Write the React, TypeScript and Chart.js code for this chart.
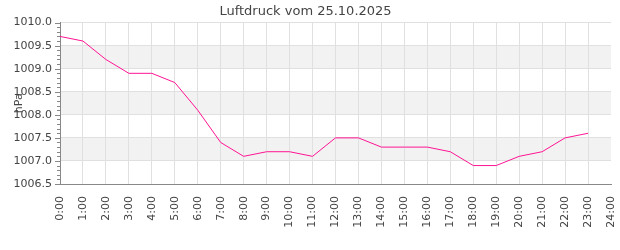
import React, { useEffect, useRef } from "react";
import { Chart, registerables } from "chart.js";

Chart.register(...registerables);

const hours = [0, 1, 2, 3, 4, 5, 6, 7, 8, 9, 10, 11, 12, 13, 14, 15, 16, 17, 18, 19, 20, 21, 22, 23];
const pressure = [
  1009.7, 1009.6, 1009.2, 1008.9, 1008.9, 1008.7, 1008.1, 1007.4, 1007.1, 1007.2, 1007.2, 1007.1,
  1007.5, 1007.5, 1007.3, 1007.3, 1007.3, 1007.2, 1006.9, 1006.9, 1007.1, 1007.2, 1007.5, 1007.6,
];
const bands: [number, number][] = [
  [1009.0, 1009.5],
  [1008.0, 1008.5],
  [1007.0, 1007.5],
];
const yMin = 1006.5;
const yMax = 1010.0;
const titleText = "Luftdruck vom 25.10.2025";
const yTitle = "hPa";

const FONT = "'DejaVu Sans', sans-serif";

const decorPlugin = {
  id: "decor",
  beforeDraw(chart: any) {
    const { ctx, chartArea, scales } = chart;
    const y = scales.y;
    ctx.save();
    ctx.fillStyle = "#f2f2f2";
    for (const [a, b] of bands) {
      const y1 = y.getPixelForValue(b);
      const y2 = y.getPixelForValue(a);
      ctx.fillRect(chartArea.left, y1, chartArea.right - chartArea.left, y2 - y1);
    }
    ctx.restore();
  },
  afterDraw(chart: any) {
    const { ctx, chartArea, scales } = chart;
    const y = scales.y;
    ctx.save();
    ctx.strokeStyle = "#888";
    ctx.lineWidth = 1;
    const n = Math.round((yMax - yMin) * 10);
    for (let i = 0; i <= n; i++) {
      const v = yMin + i / 10;
      const py = Math.round(y.getPixelForValue(v)) + 0.5;
      const len = i % 5 === 0 ? 5 : 3;
      ctx.beginPath();
      ctx.moveTo(chartArea.left - len, py);
      ctx.lineTo(chartArea.left, py);
      ctx.stroke();
    }
    ctx.fillStyle = "#444";
    ctx.font = `11px ${FONT}`;
    ctx.textAlign = "center";
    ctx.textBaseline = "middle";
    ctx.translate(chartArea.left - 41, (chartArea.top + chartArea.bottom) / 2);
    ctx.rotate(-Math.PI / 2);
    ctx.fillText(yTitle, 0, 0);
    ctx.restore();
  },
};

export default function App() {
  const ref = useRef<HTMLCanvasElement>(null);
  useEffect(() => {
    if (!ref.current) return;
    const chart = new Chart(ref.current, {
      type: "line",
      data: {
        datasets: [
          {
            data: hours.map((h, i) => ({ x: h, y: pressure[i] })),
            borderColor: "#ff1493",
            borderWidth: 1,
            pointRadius: 0,
            tension: 0,
            fill: false,
          },
        ],
      },
      plugins: [decorPlugin],
      options: {
        animation: false,
        responsive: false,
        maintainAspectRatio: false,
        layout: { padding: { left: 0, right: 9, top: 0, bottom: 0 } },
        plugins: {
          legend: { display: false },
          tooltip: { enabled: false },
          title: {
            display: true,
            text: titleText,
            color: "#444",
            font: { family: FONT, size: 13, weight: "normal" },
            padding: { top: 4, bottom: 3 },
          },
        },
        scales: {
          x: {
            type: "linear",
            min: 0,
            max: 24,
            afterFit: (s: any) => {
              s.height = 66;
              s.paddingLeft = 0;
              s.paddingRight = 0;
            },
            grid: {
              color: (c: any) => (c.tick && c.tick.value === 24 ? "rgba(0,0,0,0)" : "#e0e0e0"),
              drawTicks: false,
            },
            border: { color: "#888" },
            ticks: {
              stepSize: 1,
              autoSkip: false,
              maxRotation: 90,
              minRotation: 90,
              padding: 12,
              color: "#444",
              font: { family: FONT, size: 11 },
              callback: (v: any) => `${v}:00`,
            },
          },
          y: {
            min: yMin,
            max: yMax,
            afterFit: (s: any) => {
              s.width = 60;
              s.paddingTop = 0;
              s.paddingBottom = 0;
            },
            grid: { color: "#e0e0e0", drawTicks: false },
            border: { color: "#888" },
            ticks: {
              stepSize: 0.5,
              padding: 8,
              color: "#444",
              font: { family: FONT, size: 11 },
              callback: (v: any) => Number(v).toFixed(1),
            },
          },
        },
      },
    });
    return () => chart.destroy();
  }, []);
  return (
    <canvas
      ref={ref}
      width={620}
      height={250}
      style={{ position: "absolute", left: 0, top: 0, width: 620, height: 250 }}
    />
  );
}
